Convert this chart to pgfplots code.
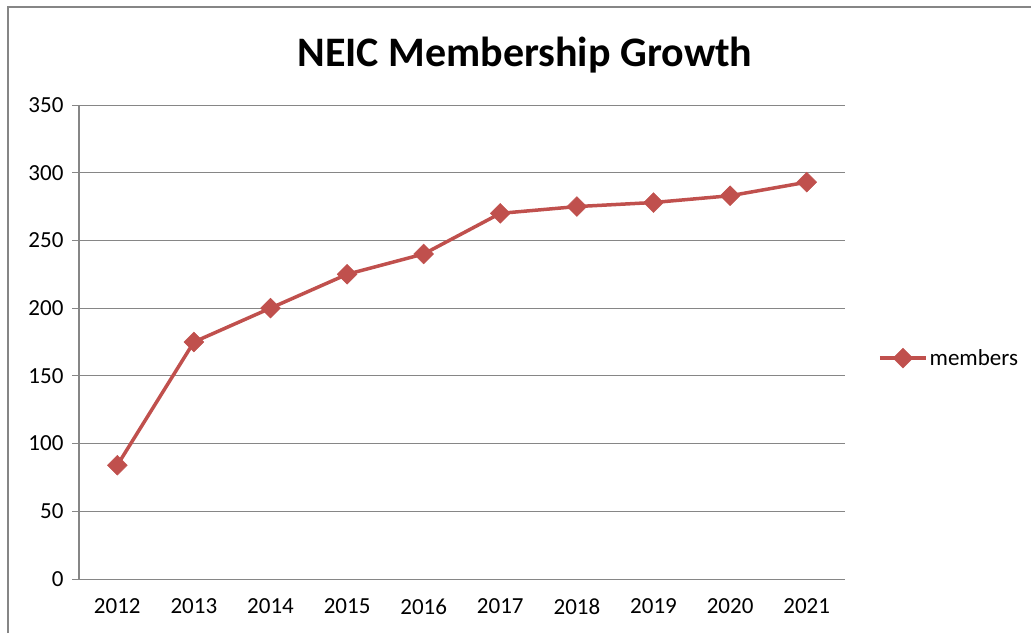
\documentclass[border=0pt]{standalone}
\usepackage{fontspec}
\setmainfont{Carlito}
\usepackage{pgfplots}
\pgfplotsset{compat=1.18}
\definecolor{exred}{HTML}{C0504D}
\definecolor{axgray}{HTML}{868686}
\begin{document}
\begin{tikzpicture}
\path[use as bounding box] (0,0) rectangle (1031pt,633pt);
\draw[axgray,line width=2pt] (8pt,0) -- (8pt,626pt) -- (1031pt,626pt);
\node[font=\fontsize{42}{50}\selectfont\bfseries] at (525pt,578pt) {NEIC Membership Growth};
\begin{axis}[
  at={(79pt,54pt)}, anchor=south west,
  scale only axis, width=766pt, height=474pt,
  xmin=0.5, xmax=10.5, ymin=0, ymax=350,
  xtick={1,...,10},
  xticklabels={2012,2013,2014,2015,2016,2017,2018,2019,2020,2021},
  minor xtick={0.5,1.5,...,10.5},
  ytick={0,50,...,350},
  axis x line*=bottom, axis y line*=left,
  axis line style={axgray,line width=1pt,-},
  ymajorgrids, major grid style={axgray,line width=1pt},
  tick align=outside,
  major tick length=7pt, minor tick length=8pt,
  xtick style={draw=none},
  ytick style={axgray,line width=1pt},
  minor tick style={axgray,line width=1pt},
  /pgf/number format/assume math mode=true,
  /pgf/number format/1000 sep={},
  tick label style={font=\fontsize{23}{27}\selectfont, text=black},
  yticklabel style={xshift=-5pt},
  xticklabel style={yshift=-9pt},
  legend style={at={(1.043,0.466)}, anchor=west, draw=none, fill=none,
    font=\fontsize{23}{27}\selectfont, inner sep=0pt},
  legend image code/.code={\draw[mark repeat=2,mark phase=2] plot coordinates {(0pt,0pt) (23pt,0pt) (46pt,0pt)};},
]
\addplot[exred, line width=3.5pt, mark=square*, mark size=7pt,
  mark options={rotate=45, line width=0.5pt, fill=exred}]
  coordinates {(1,84) (2,175) (3,200) (4,225) (5,240) (6,270) (7,275) (8,278) (9,283) (10,293)};
\addlegendentry{members}
\end{axis}
\end{tikzpicture}
\end{document}
